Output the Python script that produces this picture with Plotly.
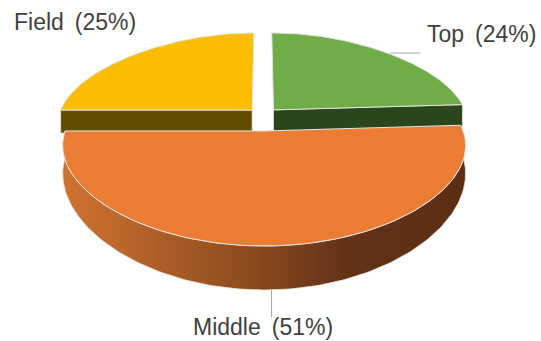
import numpy as np
import plotly.graph_objects as go

# ---- data ----
labels = ["Top", "Middle", "Field"]
values = [24, 51, 25]

# ---- styles ----
top_colors = ["#70ad47", "#ea7d33", "#fbbd00"]
cut_colors = ["#2b461d", "#7a3d15", "#634b00"]
pulls = [0.08, 0.18, 0.08]
side_scale = [[0.0, "#d07331"], [0.45, "#8f4c1f"], [0.7, "#633216"], [1.0, "#5b2e14"]]
edge = "#e4e4e4"
W, H = 541, 341

# ---- projection (empirical 3D look) ----
CX, RX, Q = 263.0, 193.3, 0.164
K, B, C, D = 138.6, 98.97, 17.7, 6.07
H0, N = 23.7, 0.524


def proj(X, Y, z):
    X = np.asarray(X, float)
    Y = np.asarray(Y, float)
    x = CX + RX * X * (1 + Q * Y)
    y = K + B * Y + C * Y ** 2 + D * Y ** 3 - z * H0 * np.exp(N * Y)
    return x, y


total = float(sum(values))
starts = np.cumsum([0] + values[:-1]) / total * 360.0
ends = np.cumsum(values) / total * 360.0

slices = []
for i in range(len(values)):
    a0, a1 = starts[i], ends[i]
    mid = np.radians((a0 + a1) / 2)
    ox, oy = pulls[i] * np.sin(mid), -pulls[i] * np.cos(mid)
    slices.append((a0, a1, ox, oy))


def pt(sl, theta_deg, r):
    a0, a1, ox, oy = sl
    t = np.radians(theta_deg)
    return ox + r * np.sin(t), oy - r * np.cos(t)


fig = go.Figure()


def poly(xs, ys, color, lw=1.0, lc=edge, grad=None):
    kw = dict(x=np.append(xs, xs[0]), y=np.append(ys, ys[0]), mode="lines",
              fill="toself", line=dict(color=lc, width=lw),
              hoverinfo="skip", showlegend=False)
    if grad is not None:
        kw["fillgradient"] = dict(type="horizontal", colorscale=grad)
    else:
        kw["fillcolor"] = color
    fig.add_trace(go.Scatter(**kw))


def top_face(i):
    sl = slices[i]
    a0, a1, ox, oy = sl
    th = np.linspace(a0, a1, 120)
    Xa, Ya = pt(sl, th, 1.0)
    X = np.concatenate([[ox], Xa])
    Y = np.concatenate([[oy], Ya])
    x, y = proj(X, Y, 1)
    poly(x, y, top_colors[i])


def cut_face(i, ang):
    sl = slices[i]
    a0, a1, ox, oy = sl
    Xe, Ye = pt(sl, ang, 1.0)
    X = np.array([ox, Xe, Xe, ox])
    Y = np.array([oy, Ye, Ye, oy])
    z = np.array([1, 1, 0, 0])
    x, y = proj(X, Y, z)
    poly(x, y, cut_colors[i], lw=0.8)


def outer_side(i, b0, b1, grad):
    sl = slices[i]
    th = np.linspace(b0, b1, 160)
    Xa, Ya = pt(sl, th, 1.0)
    xt, yt = proj(Xa, Ya, 1)
    xb, yb = proj(Xa, Ya, 0)
    x = np.concatenate([xt, xb[::-1]])
    y = np.concatenate([yt, yb[::-1]])
    poly(x, y, None, lw=0.8, grad=grad)


# back slices first: Field (index 2), Top (index 0)
cut_face(2, starts[2])
top_face(2)
cut_face(0, ends[0])
top_face(0)
# front slice: Middle
outer_side(1, max(starts[1], 90.0), min(ends[1], 270.0), side_scale)
top_face(1)

# ---- leader lines & labels ----
pct = [round(v / total * 100) for v in values]
font = dict(family="Liberation Sans, Arial, sans-serif", size=23, color="#404040")

# Top leader
sl = slices[0]
Xl, Yl = pt(sl, (starts[0] + ends[0]) / 2, 1.0)
lx, ly = proj(Xl, Yl, 1)
fig.add_trace(go.Scatter(x=[float(lx) + 3, float(lx) + 33], y=[float(ly), float(ly)], mode="lines",
                         line=dict(color="#a6a6a6", width=1), hoverinfo="skip", showlegend=False))
# Middle leader
sl = slices[1]
Xm, Ym = pt(sl, (starts[1] + ends[1]) / 2, 1.0)
mx, my = proj(Xm, Ym, 0)
fig.add_trace(go.Scatter(x=[float(mx), float(mx)], y=[float(my), float(my) + 27], mode="lines",
                         line=dict(color="#a6a6a6", width=1), hoverinfo="skip", showlegend=False))

sep = " \u2009"
ann = [
    dict(x=538, y=34, xanchor="right", text=f"{labels[0]}{sep}({pct[0]}%)"),
    dict(x=263, y=327, xanchor="center", text=f"{labels[1]}{sep}({pct[1]}%)"),
    dict(x=12, y=22, xanchor="left", text=f"{labels[2]}{sep}({pct[2]}%)"),
]
for a in ann:
    fig.add_annotation(x=a["x"], y=a["y"], xref="x", yref="y", text=a["text"],
                       xanchor=a["xanchor"], yanchor="middle", showarrow=False, font=font)

fig.update_layout(
    width=W, height=H, margin=dict(l=0, r=0, t=0, b=0),
    paper_bgcolor="white", plot_bgcolor="white",
    xaxis=dict(range=[0, W], visible=False, fixedrange=True),
    yaxis=dict(range=[H, 0], visible=False, fixedrange=True),
)
fig.write_html("out.html", config={"displayModeBar": False},
               post_script="document.body.style.margin='0';document.body.style.overflow='hidden';")
